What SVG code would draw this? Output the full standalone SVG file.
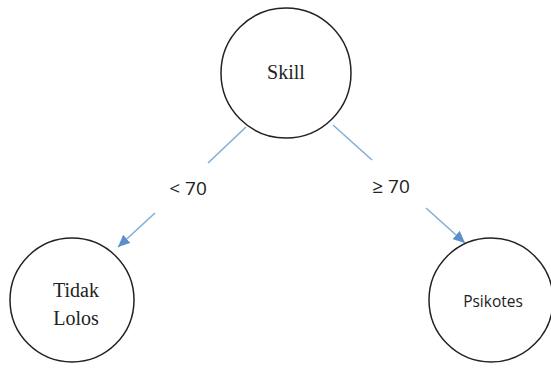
<svg xmlns="http://www.w3.org/2000/svg" width="551" height="372" viewBox="0 0 551 372">
<style>
.node{fill:#fff;stroke:#222;stroke-width:1.5}
.serif{font-family:"Liberation Serif","Times New Roman",serif;font-size:20px;fill:#222;text-anchor:middle}
.sans{font-family:"Open Sans","Liberation Sans",Arial,sans-serif;fill:#222;text-anchor:middle}
.edge{stroke:#84aed6;stroke-width:1.6;fill:none}
</style>
<defs>
<marker id="ah" viewBox="0 0 12 11" refX="12" refY="5.5" markerWidth="12" markerHeight="11" markerUnits="userSpaceOnUse" orient="auto">
<path d="M0,0 L12,5.5 L0,11 z" fill="#5b8fc9"/>
</marker>
</defs>
<rect width="551" height="372" fill="#fff"/>
<g id="connectors">
<line class="edge" x1="246" y1="127" x2="208" y2="163"/>
<line class="edge" x1="155" y1="213" x2="118" y2="247" marker-end="url(#ah)"/>
<line class="edge" x1="333" y1="125" x2="372" y2="160"/>
<line class="edge" x1="426" y1="208" x2="465" y2="243" marker-end="url(#ah)"/>
<text class="sans" x="188" y="195" font-size="19">&lt; 70</text>
<text class="sans" x="391" y="193" font-size="19">≥ 70</text>
</g>
<g id="skill">
<circle class="node" cx="286" cy="73" r="65"/>
<text class="serif" x="286" y="79">Skill</text>
</g>
<g id="tidak-lolos">
<circle class="node" cx="72" cy="300" r="62"/>
<text class="serif" x="76" y="297">Tidak</text>
<text class="serif" x="76" y="325">Lolos</text>
</g>
<g id="psikotes">
<circle class="node" cx="491" cy="300" r="62"/>
<text class="sans" x="493" y="307" font-size="15.5">Psikotes</text>
</g>
</svg>
